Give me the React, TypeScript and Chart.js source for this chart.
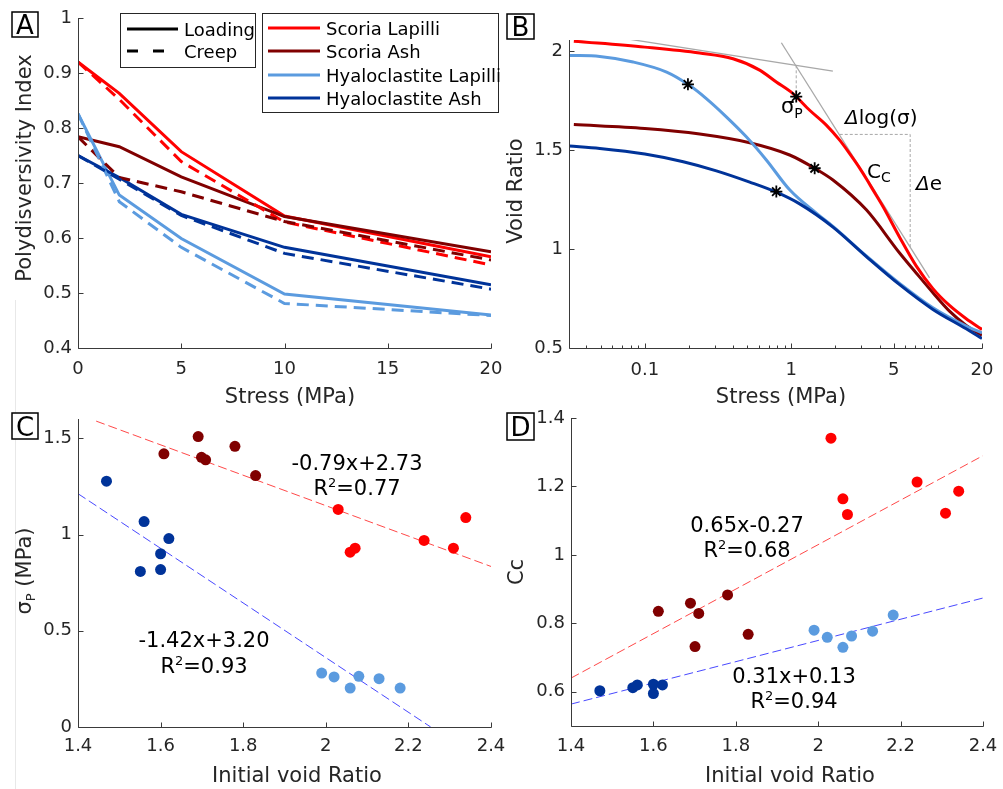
import React, { useEffect, useRef } from "react";
import { Chart, registerables } from "chart.js";

Chart.register(...registerables);

const W = 1003;
const H = 789;
const FONT = "'DejaVu Sans', Verdana, sans-serif";
const INK = "#262626";
const AXIS = "#3a3a3a";

const C_SL = "#ff0000";
const C_SA = "#800000";
const C_HL = "#5b9bdf";
const C_HA = "#003399";

// ---------------- Panel A : polydispersivity index vs stress ----------------
const stressSteps = [0, 2, 5, 10, 20];
const slLoading = [0.92, 0.863, 0.757, 0.64, 0.566];
const slCreep = [0.92, 0.852, 0.739, 0.629, 0.551];
const saLoading = [0.784, 0.766, 0.711, 0.639, 0.575];
const saCreep = [0.784, 0.71, 0.684, 0.63, 0.56];
const hlLoading = [0.826, 0.678, 0.599, 0.498, 0.46];
const hlCreep = [0.826, 0.666, 0.583, 0.481, 0.459];
const haLoading = [0.75, 0.71, 0.643, 0.583, 0.515];
const haCreep = [0.75, 0.707, 0.641, 0.572, 0.507];
const aXTicks = [0, 5, 10, 15, 20];
const aXLabels = ["0", "5", "10", "15", "20"];
const aYTicks = [0.4, 0.5, 0.6, 0.7, 0.8, 0.9, 1];
const aYLabels = ["0.4", "0.5", "0.6", "0.7", "0.8", "0.9", "1"];
const lineStyleNames = ["Loading", "Creep"];
const materialNames = ["Scoria Lapilli", "Scoria Ash", "Hyaloclastite Lapilli", "Hyaloclastite Ash"];
const materialColors = [C_SL, C_SA, C_HL, C_HA];

// ---------------- Panel B : void ratio vs stress (log) ----------------
const slStress = [0.0328, 0.1, 0.237, 0.4, 0.608, 0.79, 1.026, 1.334, 1.732, 2.137, 2.5, 2.92, 3.25, 3.6, 4.22, 5.48, 7.11, 9.25, 12.0, 15.6, 20];
const slVoid = [2.05, 2.02, 1.99, 1.961, 1.904, 1.844, 1.785, 1.701, 1.626, 1.55, 1.482, 1.41, 1.355, 1.3, 1.215, 1.06, 0.915, 0.8, 0.715, 0.648, 0.594];
const saStress = [0.0328, 0.1, 0.237, 0.52, 0.974, 1.443, 1.923, 3.25, 5.48, 7.11, 9.25, 12.0, 15.6, 20];
const saVoid = [1.629, 1.609, 1.581, 1.537, 1.475, 1.408, 1.349, 1.198, 0.98, 0.879, 0.779, 0.686, 0.614, 0.564];
const hlStress = [0.0305, 0.0493, 0.0832, 0.141, 0.197, 0.263, 0.36, 0.493, 0.675, 0.974, 1.48, 1.923, 3.25, 5.48, 9.25, 15.6, 20];
const hlVoid = [1.978, 1.973, 1.945, 1.894, 1.832, 1.76, 1.668, 1.567, 1.45, 1.299, 1.181, 1.114, 0.965, 0.826, 0.703, 0.611, 0.577];
const haStress = [0.0305, 0.0493, 0.1, 0.183, 0.308, 0.52, 0.79, 1.14, 1.923, 3.25, 5.48, 9.25, 15.6, 20];
const haVoid = [1.52, 1.508, 1.48, 1.441, 1.395, 1.338, 1.287, 1.228, 1.111, 0.962, 0.82, 0.695, 0.597, 0.548];
const yieldStress = [1.08, 1.443, 0.197, 0.79];
const yieldVoid = [1.77, 1.408, 1.832, 1.29];
const tangent1Stress = [0.0486, 1.92];
const tangent1Void = [2.084, 1.899];
const tangent2Stress = [0.855, 8.77];
const tangent2Void = [2.042, 0.854];
const sigmaGuideStress = [1.08, 1.08];
const sigmaGuideVoid = [1.928, 1.777];
const ccGuideStress = [2.14, 6.47, 6.47];
const ccGuideVoid = [1.579, 1.579, 1.005];
const bXTicks = [0.1, 1, 5, 20];
const bXLabels = ["0.1", "1", "5", "20"];
const bXMinor = [0.04, 0.05, 0.06, 0.07, 0.08, 0.09, 0.2, 0.3, 0.4, 0.5, 0.6, 0.7, 0.8, 0.9, 2, 3, 4, 6, 7, 8, 9, 10];
const bYTicks = [0.5, 1, 1.5, 2];
const bYLabels = ["0.5", "1", "1.5", "2"];

// ---------------- Panel C : yield stress vs initial void ratio ----------------
const cHaX = [1.469, 1.56, 1.62, 1.6, 1.551, 1.6];
const cHaY = [1.277, 1.067, 0.979, 0.9, 0.808, 0.818];
const cHlX = [1.99, 2.02, 2.059, 2.08, 2.129, 2.18];
const cHlY = [0.28, 0.26, 0.202, 0.263, 0.251, 0.202];
const cSaX = [1.608, 1.691, 1.699, 1.709, 1.78, 1.83];
const cSaY = [1.419, 1.509, 1.401, 1.388, 1.458, 1.306];
const cSlX = [2.03, 2.059, 2.071, 2.238, 2.309, 2.339];
const cSlY = [1.13, 0.908, 0.929, 0.969, 0.929, 1.088];
const cFitRedX = [1.444, 2.4];
const cFitRedY = [1.589, 0.834];
const cFitBlueX = [1.4, 2.254];
const cFitBlueY = [1.212, 0.0];
const cYTicks = [0, 0.5, 1, 1.5];
const cYLabels = ["0", "0.5", "1", "1.5"];
const voidTicks = [1.4, 1.6, 1.8, 2, 2.2, 2.4];
const voidLabels = ["1.4", "1.6", "1.8", "2", "2.2", "2.4"];

// ---------------- Panel D : compression index vs initial void ratio ----------------
const dHaX = [1.47, 1.55, 1.561, 1.6, 1.6, 1.622];
const dHaY = [0.603, 0.612, 0.62, 0.622, 0.595, 0.62];
const dHlX = [1.99, 2.022, 2.06, 2.081, 2.132, 2.182];
const dHlY = [0.78, 0.759, 0.73, 0.763, 0.777, 0.824];
const dSaX = [1.612, 1.69, 1.71, 1.701, 1.78, 1.83];
const dSaY = [0.835, 0.859, 0.829, 0.732, 0.883, 0.768];
const dSlX = [2.031, 2.06, 2.071, 2.24, 2.309, 2.341];
const dSlY = [1.341, 1.164, 1.118, 1.213, 1.122, 1.186];
const dFitRedX = [1.4, 2.4];
const dFitRedY = [0.64, 1.29];
const dFitBlueX = [1.4, 2.4];
const dFitBlueY = [0.564, 0.874];
const dYTicks = [0.6, 0.8, 1, 1.2, 1.4];
const dYLabels = ["0.6", "0.8", "1", "1.2", "1.4"];

// ---------------- helpers ----------------
const pts = (xs: number[], ys: number[]) => xs.map((x, i) => ({ x, y: ys[i] }));

type Part = { t: string; size?: number; dy?: number; italic?: boolean };

function fontOf(p: Part, base: number) {
  return `${p.italic ? "italic " : ""}${p.size || base}px ${FONT}`;
}

function drawRich(ctx: any, parts: Part[], x: number, y: number, align: string, base = 21, color = "#000") {
  ctx.textAlign = "left";
  ctx.textBaseline = "alphabetic";
  ctx.fillStyle = color;
  let w = 0;
  for (const p of parts) {
    ctx.font = fontOf(p, base);
    w += ctx.measureText(p.t).width;
  }
  let cx = align === "center" ? x - w / 2 : align === "right" ? x - w : x;
  for (const p of parts) {
    ctx.font = fontOf(p, base);
    ctx.fillText(p.t, cx, y + (p.dy || 0));
    cx += ctx.measureText(p.t).width;
  }
}

function drawYTitle(ctx: any, parts: Part[], baselineX: number, cy: number) {
  ctx.save();
  ctx.translate(baselineX, cy);
  ctx.rotate(-Math.PI / 2);
  drawRich(ctx, parts, 0, 0, "center", 21, INK);
  ctx.restore();
}

function drawLetter(ctx: any, letter: string, x: number, y: number, w: number, h: number) {
  ctx.fillStyle = "#fff";
  ctx.fillRect(x, y, w, h);
  ctx.strokeStyle = "#000";
  ctx.lineWidth = 1.5;
  ctx.strokeRect(x, y, w, h);
  ctx.fillStyle = "#000";
  ctx.font = `26px ${FONT}`;
  ctx.textAlign = "center";
  ctx.textBaseline = "alphabetic";
  ctx.fillText(letter, x + w / 2, y + h / 2 + 9.5);
}

function drawAxes(ctx: any, chart: any, xTicks: number[], yTicks: number[], xMinor: number[] = []) {
  const { left, right, top, bottom } = chart.chartArea;
  const xs = chart.scales.x;
  const ys = chart.scales.y;
  const L = Math.round(left) + 0.5;
  const B = Math.round(bottom) + 0.5;
  ctx.strokeStyle = AXIS;
  ctx.lineWidth = 1;
  ctx.setLineDash([]);
  ctx.beginPath();
  ctx.moveTo(L, Math.round(top));
  ctx.lineTo(L, B);
  ctx.lineTo(Math.round(right) + 0.5, B);
  for (const v of xTicks) {
    const px = Math.round(xs.getPixelForValue(v)) + 0.5;
    ctx.moveTo(px, B);
    ctx.lineTo(px, B - 5);
  }
  for (const v of xMinor) {
    const px = Math.round(xs.getPixelForValue(v)) + 0.5;
    ctx.moveTo(px, B);
    ctx.lineTo(px, B - 3);
  }
  for (const v of yTicks) {
    const py = Math.round(ys.getPixelForValue(v)) + 0.5;
    ctx.moveTo(L, py);
    ctx.lineTo(L + 5, py);
  }
  ctx.stroke();
}

type Area = { l: number; t: number; r: number; b: number };

function axisOpts(type: string, min: number, max: number, ticks: number[], labels: string[], isX: boolean, pad: number) {
  return {
    type,
    min,
    max,
    position: isX ? "bottom" : "left",
    grid: { display: false, drawTicks: false },
    border: { display: false },
    ticks: {
      font: { family: FONT, size: 18 },
      color: INK,
      padding: pad,
      autoSkip: false,
      maxRotation: 0,
      minRotation: 0,
      callback: (v: any) => {
        const i = ticks.findIndex((t) => Math.abs(t - Number(v)) < 1e-9);
        return i >= 0 ? labels[i] : "";
      },
    },
    afterBuildTicks: (s: any) => {
      s.ticks = ticks.map((v) => ({ value: v }));
    },
    afterFit: (s: any) => {
      if (isX) s.height = 40;
      else s.width = 60;
      s.paddingLeft = 0;
      s.paddingRight = 0;
      s.paddingTop = 0;
      s.paddingBottom = 0;
    },
  };
}

function baseConfig(area: Area, x: any, y: any, datasets: any[], draw: (ctx: any, chart: any) => void) {
  return {
    type: "line",
    data: { datasets },
    options: {
      responsive: false,
      animation: false,
      devicePixelRatio: 1,
      events: [],
      layout: {
        autoPadding: false,
        padding: { left: area.l - 60, top: area.t, right: W - area.r, bottom: H - area.b - 40 },
      },
      plugins: { legend: { display: false }, tooltip: { enabled: false }, title: { display: false } },
      scales: { x, y },
    },
    plugins: [
      {
        id: "deco",
        afterDraw(chart: any) {
          const ctx = chart.ctx;
          ctx.save();
          draw(ctx, chart);
          ctx.restore();
        },
      },
    ],
  };
}

const lineDs = (xs: number[], ys: number[], color: string, dashed: boolean, width = 3) => ({
  data: pts(xs, ys),
  borderColor: color,
  backgroundColor: color,
  borderWidth: width,
  borderDash: dashed ? [12, 7] : [],
  pointRadius: 0,
  fill: false,
  tension: 0,
});

const dotDs = (xs: number[], ys: number[], color: string) => ({
  data: pts(xs, ys),
  showLine: false,
  pointRadius: 5.5,
  pointBackgroundColor: color,
  pointBorderWidth: 0,
  pointBorderColor: color,
});

const fitDs = (xs: number[], ys: number[], color: string) => ({
  data: pts(xs, ys),
  borderColor: color,
  borderWidth: 1,
  borderDash: [9, 4],
  pointRadius: 0,
  fill: false,
  tension: 0,
});

// ---------------- Panel configs ----------------
const AREA_A: Area = { l: 78, t: 18, r: 491, b: 348 };
const AREA_B: Area = { l: 569, t: 40, r: 982, b: 348 };
const AREA_C: Area = { l: 78, t: 419, r: 491, b: 727 };
const AREA_D: Area = { l: 571, t: 418, r: 983, b: 726 };

function buildA() {
  const datasets = [
    lineDs(stressSteps, haCreep, C_HA, true),
    lineDs(stressSteps, hlCreep, C_HL, true),
    lineDs(stressSteps, saCreep, C_SA, true),
    lineDs(stressSteps, slCreep, C_SL, true),
    lineDs(stressSteps, haLoading, C_HA, false),
    lineDs(stressSteps, hlLoading, C_HL, false),
    lineDs(stressSteps, saLoading, C_SA, false),
    lineDs(stressSteps, slLoading, C_SL, false),
  ];
  return baseConfig(
    AREA_A,
    axisOpts("linear", 0, 20, aXTicks, aXLabels, true, 11),
    axisOpts("linear", 0.4, 1, aYTicks, aYLabels, false, 6),
    datasets,
    (ctx, chart) => {
      drawAxes(ctx, chart, aXTicks, aYTicks);
      drawRich(ctx, [{ t: "Stress (MPa)" }], 290, 403, "center", 21, INK);
      drawYTitle(ctx, [{ t: "Polydisversivity Index" }], 31, 168);
      drawLetter(ctx, "A", 12, 12, 26, 25);
      // legend: line styles
      ctx.fillStyle = "#fff";
      ctx.fillRect(120.5, 13.5, 135, 54);
      ctx.strokeStyle = INK;
      ctx.lineWidth = 1;
      ctx.setLineDash([]);
      ctx.strokeRect(120.5, 13.5, 135, 54);
      const styleY = [29, 51];
      lineStyleNames.forEach((name, i) => {
        ctx.strokeStyle = "#000";
        ctx.lineWidth = 3;
        ctx.setLineDash(i === 1 ? [11, 15] : []);
        ctx.beginPath();
        ctx.moveTo(127, styleY[i]);
        ctx.lineTo(178, styleY[i]);
        ctx.stroke();
        ctx.setLineDash([]);
        drawRich(ctx, [{ t: name }], 184, styleY[i] + 6.5, "left", 18, "#000");
      });
      // legend: materials
      ctx.fillStyle = "#fff";
      ctx.fillRect(262.5, 13.5, 236, 99);
      ctx.strokeStyle = INK;
      ctx.lineWidth = 1;
      ctx.strokeRect(262.5, 13.5, 236, 99);
      const matY = [28, 51, 75, 98];
      materialNames.forEach((name, i) => {
        ctx.strokeStyle = materialColors[i];
        ctx.lineWidth = 3;
        ctx.beginPath();
        ctx.moveTo(268, matY[i]);
        ctx.lineTo(320, matY[i]);
        ctx.stroke();
        drawRich(ctx, [{ t: name }], 326, matY[i] + 6.5, "left", 18, "#000");
      });
    }
  );
}

function buildB() {
  const curve = (xs: number[], ys: number[], color: string) => ({
    ...lineDs(xs, ys, color, false),
    cubicInterpolationMode: "monotone",
  });
  const guide = (xs: number[], ys: number[], dotted: boolean) => ({
    data: pts(xs, ys),
    borderColor: "#a8a8a8",
    borderWidth: dotted ? 1 : 1.3,
    borderDash: dotted ? [3, 2] : [],
    pointRadius: 0,
    fill: false,
    tension: 0,
  });
  const datasets = [
    {
      data: pts(yieldStress, yieldVoid),
      showLine: false,
      pointStyle: "star",
      pointRadius: 6,
      pointBorderColor: "#000",
      pointBackgroundColor: "#000",
      pointBorderWidth: 1.8,
    },
    curve(slStress, slVoid, C_SL),
    curve(haStress, haVoid, C_HA),
    curve(hlStress, hlVoid, C_HL),
    curve(saStress, saVoid, C_SA),
    guide(tangent1Stress, tangent1Void, false),
    guide(tangent2Stress, tangent2Void, false),
    guide(sigmaGuideStress, sigmaGuideVoid, true),
    guide(ccGuideStress, ccGuideVoid, true),
  ];
  return baseConfig(
    AREA_B,
    axisOpts("logarithmic", 0.0304, 20, bXTicks, bXLabels, true, 12),
    axisOpts("linear", 0.5, 2.056, bYTicks, bYLabels, false, 6),
    datasets,
    (ctx, chart) => {
      drawAxes(ctx, chart, bXTicks, bYTicks, bXMinor);
      drawRich(ctx, [{ t: "Stress (MPa)" }], 781, 403, "center", 21, INK);
      drawYTitle(ctx, [{ t: "Void Ratio" }], 522, 191);
      drawLetter(ctx, "B", 507, 14, 27, 25);
      drawRich(ctx, [{ t: "σ", size: 21 }, { t: "P", size: 14, dy: 5 }], 781, 113, "left", 21, "#000");
      drawRich(ctx, [{ t: "Δ", italic: true }, { t: "log(σ)" }], 845, 124, "left", 20, "#000");
      drawRich(ctx, [{ t: "C", size: 20 }, { t: "C", size: 14, dy: 4 }], 867, 178, "left", 20, "#000");
      drawRich(ctx, [{ t: "Δ", italic: true }, { t: "e" }], 916, 190, "left", 20, "#000");
    }
  );
}

function buildC() {
  const datasets = [
    dotDs(cHaX, cHaY, C_HA),
    dotDs(cHlX, cHlY, C_HL),
    dotDs(cSaX, cSaY, C_SA),
    dotDs(cSlX, cSlY, C_SL),
    fitDs(cFitRedX, cFitRedY, "rgba(255,40,40,0.85)"),
    fitDs(cFitBlueX, cFitBlueY, "rgba(40,40,255,0.85)"),
  ];
  return baseConfig(
    AREA_C,
    axisOpts("linear", 1.4, 2.4, voidTicks, voidLabels, true, 9),
    axisOpts("linear", 0, 1.6, cYTicks, cYLabels, false, 6),
    datasets,
    (ctx, chart) => {
      ctx.fillStyle = "#e8e8e8";
      ctx.fillRect(15, 300, 1, 489);
      drawAxes(ctx, chart, voidTicks, cYTicks);
      drawRich(ctx, [{ t: "Initial void Ratio" }], 297, 782, "center", 21, INK);
      drawYTitle(ctx, [{ t: "σ" }, { t: "P", size: 13, dy: 4 }, { t: " (MPa)" }], 31, 571);
      drawLetter(ctx, "C", 12, 413, 26, 26);
      drawRich(ctx, [{ t: "-0.79x+2.73" }], 357, 470, "center", 21, "#000");
      drawRich(ctx, [{ t: "R" }, { t: "2", size: 13, dy: -8 }, { t: "=0.77" }], 357, 495, "center", 21, "#000");
      drawRich(ctx, [{ t: "-1.42x+3.20" }], 204, 647, "center", 21, "#000");
      drawRich(ctx, [{ t: "R" }, { t: "2", size: 13, dy: -8 }, { t: "=0.93" }], 204, 673, "center", 21, "#000");
    }
  );
}

function buildD() {
  const datasets = [
    dotDs(dHaX, dHaY, C_HA),
    dotDs(dHlX, dHlY, C_HL),
    dotDs(dSaX, dSaY, C_SA),
    dotDs(dSlX, dSlY, C_SL),
    fitDs(dFitRedX, dFitRedY, "rgba(255,40,40,0.85)"),
    fitDs(dFitBlueX, dFitBlueY, "rgba(40,40,255,0.85)"),
  ];
  return baseConfig(
    AREA_D,
    axisOpts("linear", 1.4, 2.4, voidTicks, voidLabels, true, 10),
    axisOpts("linear", 0.5, 1.4, dYTicks, dYLabels, false, 6),
    datasets,
    (ctx, chart) => {
      drawAxes(ctx, chart, voidTicks, dYTicks);
      drawRich(ctx, [{ t: "Initial void Ratio" }], 790, 782, "center", 21, INK);
      drawYTitle(ctx, [{ t: "Cc" }], 523, 572);
      drawLetter(ctx, "D", 507, 413, 27, 27);
      drawRich(ctx, [{ t: "0.65x-0.27" }], 747, 532, "center", 21, "#000");
      drawRich(ctx, [{ t: "R" }, { t: "2", size: 13, dy: -8 }, { t: "=0.68" }], 747, 557, "center", 21, "#000");
      drawRich(ctx, [{ t: "0.31x+0.13" }], 794, 683, "center", 21, "#000");
      drawRich(ctx, [{ t: "R" }, { t: "2", size: 13, dy: -8 }, { t: "=0.94" }], 794, 708, "center", 21, "#000");
    }
  );
}

function PanelCanvas({ build }: { build: () => any }) {
  const ref = useRef<HTMLCanvasElement>(null);
  useEffect(() => {
    const chart = new Chart(ref.current as HTMLCanvasElement, build() as any);
    return () => chart.destroy();
  }, [build]);
  return (
    <canvas
      ref={ref}
      width={W}
      height={H}
      style={{ position: "absolute", left: 0, top: 0, width: W, height: H }}
    />
  );
}

export default function App() {
  return (
    <div style={{ position: "absolute", left: 0, top: 0, width: W, height: H, background: "#fff", overflow: "hidden" }}>
      <PanelCanvas build={buildA} />
      <PanelCanvas build={buildB} />
      <PanelCanvas build={buildC} />
      <PanelCanvas build={buildD} />
    </div>
  );
}
